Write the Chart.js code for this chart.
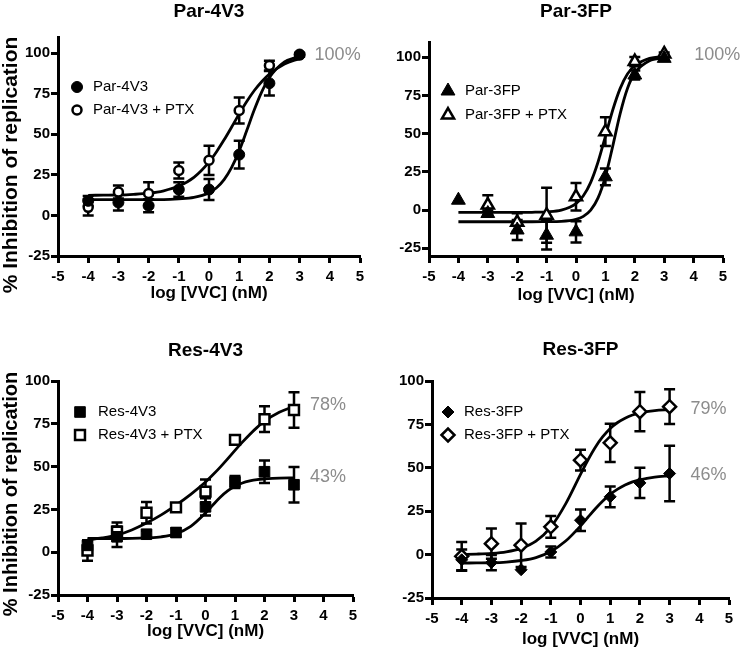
<!DOCTYPE html>
<html>
<head>
<meta charset="utf-8">
<script src="https://cdn.jsdelivr.net/npm/chart.js@4.4.1/dist/chart.umd.min.js"></script>
<style>
  html, body { margin: 0; padding: 0; background: #fff; }
  #grid { position: relative; width: 742px; height: 652px; }
  .panel { position: absolute; width: 371px; height: 326px; }
</style>
</head>
<body>
<div id="grid">
  <div class="panel" style="left:0;top:0"><canvas id="c1" width="371" height="326"></canvas></div>
  <div class="panel" style="left:371px;top:0"><canvas id="c2" width="371" height="326"></canvas></div>
  <div class="panel" style="left:0;top:326px"><canvas id="c3" width="371" height="326"></canvas></div>
  <div class="panel" style="left:371px;top:326px"><canvas id="c4" width="371" height="326"></canvas></div>
</div>
<script>
// log doses where measurements were taken, and where the fitted curves are read
const doses = [-4, -3, -2, -1, 0, 1, 2, 3];
const fitDoses = [-4, -3.5, -3, -2.5, -2, -1.5, -1, -0.5, 0, 0.25, 0.5, 0.75, 1, 1.25, 1.5, 1.75, 2, 2.5, 3];
const xTicks = [-5, -4, -3, -2, -1, 0, 1, 2, 3, 4, 5];
const yTicks = [-25, 0, 25, 50, 75, 100];

// Par-4V3
const par4v3 = [9, 8, 6, 16, 16, 37.5, 81.5, 99.2];
const par4v3Sem = [3, 5, 4, 4.5, 6.5, 8.5, 7.5, 1];
const par4v3Fit = [9.7, 9.7, 9.7, 9.7, 9.8, 9.8, 10.2, 11.1, 14.0, 17.1, 22.1, 29.6, 39.8, 52.3, 65.1, 76.3, 85.0, 94.6, 98.2];
const par4v3Ptx = [5, 14.4, 13.5, 27.7, 34, 64.7, 92.4, 99];
const par4v3PtxSem = [5, 4, 7, 5, 9, 8, 3, 1];
const par4v3PtxFit = [12.4, 12.5, 12.6, 13.0, 13.7, 15.2, 18.1, 23.5, 32.9, 39.3, 46.6, 54.5, 62.6, 70.2, 77.0, 82.6, 87.2, 93.4, 96.7];

// Par-3FP
const par3fp = [6.5, -2.2, -13, -16.4, -14.2, 21.8, 88.4, 99.3];
const par3fpSem = [0, 2, 6.5, 9.4, 7, 5.5, 3, 1];
const par3fpFit = [-7.6, -7.6, -7.6, -7.6, -7.6, -7.6, -7.5, -7.3, -6.0, -4.1, 0.0, 8.0, 22.0, 41.9, 63.0, 79.6, 89.8, 97.8, 99.5];
const par3fpPtx = [null, 3.3, -8, -3.3, 8.7, 51.3, 97.2, 102.2];
const par3fpPtxSem = [0, 6.5, 6, 18, 9, 9.4, 3, 1];
const par3fpPtxFit = [-1.5, -1.5, -1.5, -1.5, -1.5, -1.4, -1.1, 0.0, 4.3, 9.4, 18.2, 31.5, 48.3, 65.5, 79.5, 89.0, 94.6, 99.3, 100.6];

// Res-4V3
const res4v3 = [4, 9, 10.5, 11.5, 26.5, 41, 47, 39.4];
const res4v3Sem = [3, 6, 2, 2.5, 5, 3.5, 6.6, 10.3];
const res4v3Fit = [8.0, 8.0, 8.0, 8.1, 8.4, 9.0, 10.8, 15.1, 22.9, 27.6, 32.1, 35.8, 38.5, 40.4, 41.6, 42.4, 42.8, 43.3, 43.4];
const res4v3Ptx = [1, 12, 23, 26.2, 35.4, 65.6, 77.7, 83.1];
const res4v3PtxSem = [6, 5.3, 6.3, 2, 7, 2, 7.5, 10.4];
const res4v3PtxFit = [7.2, 8.3, 10.0, 13.0, 17.0, 21.8, 27.5, 33.8, 41.0, 45.2, 49.7, 54.5, 59.5, 64.3, 68.8, 72.9, 76.5, 81.7, 85.2];

// Res-3FP
const res3fp = [-3, -4.6, -8.7, 1.5, 19.8, 33.3, 41.3, 46.7];
const res3fpSem = [6, 4.4, 0, 3.2, 6.2, 6, 8.7, 16];
const res3fpFit = [-4.9, -4.8, -4.7, -4.3, -3.4, -1.7, 1.8, 7.8, 16.5, 21.5, 26.4, 30.9, 34.7, 37.7, 40.1, 41.9, 43.1, 44.6, 45.4];
const res3fpPtx = [-1, 6.3, 5.4, 16, 54.4, 64.4, 82.3, 85.2];
const res3fpPtxSem = [8.3, 8.7, 12.5, 6.3, 6, 11, 11.3, 10];
const res3fpPtxFit = [0.1, 0.3, 0.7, 1.6, 3.6, 7.7, 15.8, 29.2, 46.2, 54.5, 61.9, 67.9, 72.7, 76.1, 78.6, 80.4, 81.6, 82.9, 83.5];

// maximal inhibition written next to the curves
const par4v3Max = '100%';
const par3fpMax = '100%';
const res4v3PtxMax = '78%';
const res4v3Max = '43%';
const res3fpPtxMax = '79%';
const res3fpMax = '46%';

const FONT = '"Liberation Sans", Arial, Helvetica, sans-serif';
Chart.defaults.font.family = FONT;
Chart.defaults.color = '#000';

const markers = {
  circle:      { style: 'circle',   radius: 5.5, fill: '#000', border: 1 },
  openCircle:  { style: 'circle',   radius: 4.5, fill: '#fff', border: 2.5 },
  triangle:    { style: 'triangle', radius: 8,   fill: '#000', border: 1 },
  openTri:     { style: 'triangle', radius: 7,   fill: '#fff', border: 2.5 },
  square:      { style: 'rect',     radius: 7.5, fill: '#000', border: 1 },
  openSquare:  { style: 'rect',     radius: 7,   fill: '#fff', border: 2.5 },
  diamond:     { style: 'rectRot',  radius: 6,   fill: '#000', border: 1 },
  openDiamond: { style: 'rectRot',  radius: 6.5, fill: '#fff', border: 2.5 }
};

function drawMarker(ctx, m, x, y) {
  ctx.save();
  ctx.fillStyle = m.fill;
  ctx.strokeStyle = '#000';
  ctx.lineWidth = m.border;
  if (Chart.helpers && Chart.helpers.drawPoint) {
    Chart.helpers.drawPoint(ctx, { pointStyle: m.style, radius: m.radius, rotation: 0, borderWidth: m.border }, x, y);
  } else {
    ctx.beginPath();
    ctx.arc(x, y, m.radius, 0, Math.PI * 2);
    ctx.fill();
    ctx.stroke();
  }
  ctx.restore();
}

// error bars go under the markers
const errorBars = {
  id: 'errorBars',
  beforeDatasetsDraw(chart) {
    const { ctx, scales: { x, y } } = chart;
    ctx.save();
    ctx.strokeStyle = '#000';
    ctx.lineWidth = 2.5;
    chart.data.datasets.forEach(ds => {
      if (!ds.sem) return;
      ds.data.forEach((p, i) => {
        const e = ds.sem[i];
        if (p.y == null || !e) return;
        const px = x.getPixelForValue(p.x);
        const top = y.getPixelForValue(p.y + e);
        const bot = y.getPixelForValue(p.y - e);
        ctx.beginPath();
        ctx.moveTo(px, top); ctx.lineTo(px, bot);
        ctx.moveTo(px - 5.5, top); ctx.lineTo(px + 5.5, top);
        ctx.moveTo(px - 5.5, bot); ctx.lineTo(px + 5.5, bot);
        ctx.stroke();
      });
    });
    ctx.restore();
  }
};

// legend inside the plot, max % labels and the rotated y title
const decor = {
  id: 'decor',
  afterDatasetsDraw(chart, args, opts) {
    const { ctx, chartArea, scales: { x, y } } = chart;
    const series = opts.series;

    ctx.save();
    ctx.font = '15px ' + FONT;
    ctx.textAlign = 'left';
    ctx.textBaseline = 'middle';
    series.forEach((s, i) => {
      const ly = chartArea.top + opts.legend.rows[i];
      drawMarker(ctx, s.marker, chartArea.left + opts.legend.mx, ly);
      ctx.fillStyle = '#000';
      ctx.fillText(s.label, chartArea.left + opts.legend.tx, ly);
    });

    ctx.font = '18px ' + FONT;
    ctx.fillStyle = '#8c8c8c';
    series.forEach(s => {
      if (!s.max) return;
      const last = s.fit[s.fit.length - 1];
      ctx.fillText(s.max, x.getPixelForValue(doses[doses.length - 1]) + opts.pctDx, y.getPixelForValue(last) - 1);
    });

    if (opts.yTitle) {
      ctx.translate(opts.yTitle.x, opts.yTitle.y);
      ctx.rotate(-Math.PI / 2);
      ctx.textAlign = 'center';
      ctx.fillStyle = '#000';
      ctx.font = 'bold ' + opts.yTitle.size + 'px ' + FONT;
      ctx.fillText('% Inhibition of replication', 0, 0);
    }
    ctx.restore();
  }
};

function makePanel(id, cfg) {
  const pointSets = cfg.series.map(s => ({
    label: s.label,
    data: doses.map((d, i) => ({ x: d, y: s.mean[i] })),
    sem: s.sem,
    showLine: false,
    pointStyle: s.marker.style,
    pointRadius: s.marker.radius,
    pointBackgroundColor: s.marker.fill,
    pointBorderColor: '#000',
    pointBorderWidth: s.marker.border,
    order: 0
  }));
  const fitSets = cfg.series.map(s => ({
    label: s.label + ' fit',
    data: fitDoses.map((d, i) => ({ x: d, y: s.fit[i] })),
    showLine: true,
    pointRadius: 0,
    borderColor: '#000',
    borderWidth: 2.8,
    cubicInterpolationMode: 'monotone',
    order: 1
  }));

  new Chart(document.getElementById(id), {
    type: 'scatter',
    data: { datasets: pointSets.concat(fitSets) },
    options: {
      responsive: false,
      animation: false,
      devicePixelRatio: 1,
      layout: { padding: { left: 0, right: cfg.padRight, top: 0, bottom: 0 } },
      plugins: {
        legend: { display: false },
        tooltip: { enabled: false },
        title: {
          display: true,
          fullSize: false,
          text: cfg.title,
          color: '#000',
          font: { size: 19, weight: 'bold' },
          padding: cfg.titlePad
        },
        decor: {
          series: cfg.series,
          legend: cfg.legend,
          pctDx: cfg.pctDx,
          yTitle: cfg.yTitle
        }
      },
      scales: {
        x: {
          type: 'linear',
          min: -5,
          max: 5,
          afterBuildTicks: s => { s.ticks = xTicks.map(v => ({ value: v })); },
          afterFit: s => { s.height = cfg.xHeight; },
          grid: { display: true, drawOnChartArea: false, drawTicks: true, tickLength: 7, tickWidth: 3, tickColor: '#000' },
          border: { display: true, color: '#000', width: 3 },
          ticks: { color: '#000', font: { size: 15, weight: 'bold' }, padding: 5, maxRotation: 0, autoSkip: false },
          title: {
            display: true,
            text: 'log [VVC] (nM)',
            color: '#000',
            font: { size: 17, weight: 'bold' },
            padding: { top: 0, bottom: cfg.xTitlePad }
          }
        },
        y: {
          type: 'linear',
          min: cfg.yMin,
          max: cfg.yMax,
          afterBuildTicks: s => { s.ticks = yTicks.map(v => ({ value: v })); },
          afterFit: s => { s.width = cfg.yWidth; },
          grid: { display: true, drawOnChartArea: false, drawTicks: true, tickLength: 7, tickWidth: 3, tickColor: '#000' },
          border: { display: true, color: '#000', width: 3 },
          ticks: { color: '#000', font: { size: 15, weight: 'bold' }, padding: 1 }
        }
      }
    },
    plugins: [errorBars, decor]
  });
}

makePanel('c1', {
  title: 'Par-4V3',
  series: [
    { label: 'Par-4V3', mean: par4v3, sem: par4v3Sem, fit: par4v3Fit, marker: markers.circle, max: par4v3Max },
    { label: 'Par-4V3 + PTX', mean: par4v3Ptx, sem: par4v3PtxSem, fit: par4v3PtxFit, marker: markers.openCircle }
  ],
  yMin: -25, yMax: 110,
  padRight: 11, yWidth: 58, xHeight: 70, xTitlePad: 22.8,
  titlePad: { top: 0, bottom: 14.2 },
  legend: { mx: 19, tx: 35, rows: [50, 73] },
  pctDx: 15,
  yTitle: { x: 11, y: 165, size: 21 }
});

makePanel('c2', {
  title: 'Par-3FP',
  series: [
    { label: 'Par-3FP', mean: par3fp, sem: par3fpSem, fit: par3fpFit, marker: markers.triangle },
    { label: 'Par-3FP + PTX', mean: par3fpPtx, sem: par3fpPtxSem, fit: par3fpPtxFit, marker: markers.openTri, max: par3fpMax }
  ],
  yMin: -30, yMax: 110,
  padRight: 19, yWidth: 58, xHeight: 70, xTitlePad: 20.8,
  titlePad: { top: 0, bottom: 19.2 },
  legend: { mx: 19, tx: 36, rows: [49, 73] },
  pctDx: 30
});

makePanel('c3', {
  title: 'Res-4V3',
  series: [
    { label: 'Res-4V3', mean: res4v3, sem: res4v3Sem, fit: res4v3Fit, marker: markers.square, max: res4v3Max },
    { label: 'Res-4V3 + PTX', mean: res4v3Ptx, sem: res4v3PtxSem, fit: res4v3PtxFit, marker: markers.openSquare, max: res4v3PtxMax }
  ],
  yMin: -25, yMax: 100,
  padRight: 18, yWidth: 58, xHeight: 57, xTitlePad: 10.8,
  titlePad: { top: 13.6, bottom: 18.6 },
  legend: { mx: 22, tx: 40, rows: [31, 54] },
  pctDx: 16,
  yTitle: { x: 11, y: 168, size: 20 }
});

makePanel('c4', {
  title: 'Res-3FP',
  series: [
    { label: 'Res-3FP', mean: res3fp, sem: res3fpSem, fit: res3fpFit, marker: markers.diamond, max: res3fpMax },
    { label: 'Res-3FP + PTX', mean: res3fpPtx, sem: res3fpPtxSem, fit: res3fpPtxFit, marker: markers.openDiamond, max: res3fpPtxMax }
  ],
  yMin: -25, yMax: 100,
  padRight: 13, yWidth: 61, xHeight: 54, xTitlePad: 2.8,
  titlePad: { top: 12.6, bottom: 19.6 },
  legend: { mx: 16, tx: 32, rows: [31, 54] },
  pctDx: 21
});
</script>
</body>
</html>
